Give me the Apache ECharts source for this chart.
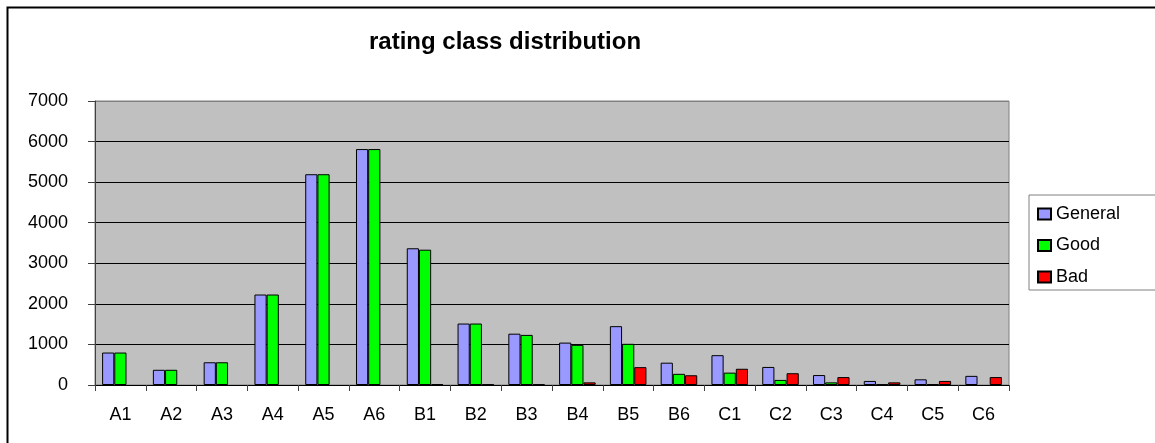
<!DOCTYPE html>
<html>
<head>
<meta charset="utf-8">
<script src="https://cdn.jsdelivr.net/npm/echarts@6/dist/echarts.min.js"></script>
<style>
html,body{margin:0;padding:0;background:#fff;}
#chart{width:1155px;height:443px;}
</style>
</head>
<body>
<div id="chart"></div>
<script>
const categories = ['A1','A2','A3','A4','A5','A6','B1','B2','B3','B4','B5','B6','C1','C2','C3','C4','C5','C6'];
const general = [800, 375, 560, 2230, 5195, 5815, 3370, 1515, 1265, 1045, 1450, 550, 735, 445, 245, 100, 140, 225];
const good    = [800, 375, 560, 2230, 5195, 5815, 3335, 1515, 1235, 990, 1015, 275, 305, 125, 65, 15, 20, 0];
const bad     = [0, 0, 0, 0, 0, 0, 20, 15, 15, 65, 440, 240, 400, 290, 195, 65, 100, 195];
const yTicks  = {min: 0, max: 7000, interval: 1000};

const FONT = '"Liberation Sans", Arial, sans-serif';
const chart = echarts.init(document.getElementById('chart'), null, {renderer: 'canvas'});

function barSeries(name, data, color) {
  return {
    name: name,
    type: 'bar',
    data: data.map(v => v === 0 ? {value: 0, itemStyle: {borderWidth: 0}} : v),
    barGap: '0%',
    barCategoryGap: '28%',
    itemStyle: {color: color, borderColor: '#000', borderWidth: 1},
    emphasis: {disabled: true},
    animation: false
  };
}

chart.setOption({
  animation: false,
  textStyle: {fontFamily: FONT},
  title: {
    text: 'rating class distribution',
    left: 369,
    top: 30,
    padding: 0,
    textStyle: {fontFamily: FONT, fontSize: 24, fontWeight: 'bold', color: '#000'}
  },
  graphic: [{
    type: 'rect',
    shape: {x: 7.5, y: 7.5, width: 1200, height: 500},
    style: {fill: 'none', stroke: '#000', lineWidth: 2},
    silent: true,
    z: 100
  }],
  legend: {
    orient: 'vertical',
    left: 1029,
    top: 195,
    backgroundColor: '#fff',
    borderColor: '#808080',
    borderWidth: 1,
    padding: [10, 40, 4, 8],
    itemWidth: 13,
    itemHeight: 11,
    itemGap: 13.5,
    icon: 'rect',
    selectedMode: false,
    textStyle: {fontFamily: FONT, fontSize: 18, color: '#000'},
    data: ['General', 'Good', 'Bad']
  },
  grid: {
    left: 95, right: 146, top: 101, bottom: 58,
    show: true,
    backgroundColor: '#C0C0C0',
    borderColor: '#808080',
    borderWidth: 1,
    containLabel: false
  },
  xAxis: {
    type: 'category',
    data: categories,
    boundaryGap: true,
    axisLine: {lineStyle: {color: '#000', width: 1}},
    axisTick: {show: true, length: 6, interval: 0, alignWithLabel: false, lineStyle: {color: '#404040'}},
    axisLabel: {interval: 0, margin: 21, fontSize: 18, color: '#000', fontFamily: FONT}
  },
  yAxis: {
    type: 'value',
    min: yTicks.min,
    max: yTicks.max,
    interval: yTicks.interval,
    axisLine: {show: true, lineStyle: {color: '#404040', width: 1}},
    axisTick: {show: true, length: 7, lineStyle: {color: '#404040'}},
    axisLabel: {margin: 27, fontSize: 18, color: '#000', fontFamily: FONT, formatter: v => String(v)},
    splitLine: {show: true, lineStyle: {color: ['#000','#000','#000','#000','#000','#000','#000','#808080'], width: 1}}
  },
  series: [
    barSeries('General', general, '#9999FF'),
    barSeries('Good', good, '#00FF00'),
    barSeries('Bad', bad, '#FF0000')
  ]
});
</script>
</body>
</html>
